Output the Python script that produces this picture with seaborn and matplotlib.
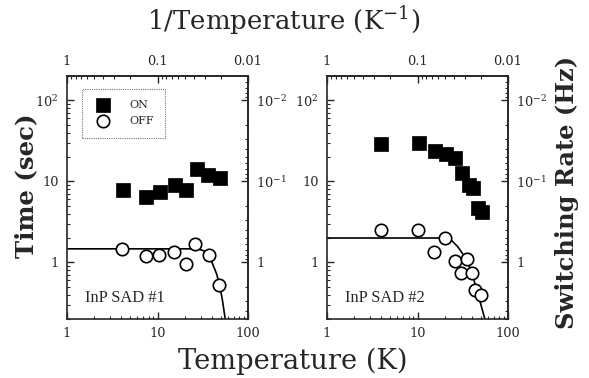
import matplotlib
matplotlib.use("Agg")
import matplotlib.pyplot as plt
import matplotlib.ticker as mticker
import seaborn as sns
import pandas as pd
import numpy as np

# ---- data ----
on1_T = [4.2, 7.4, 10.7, 15.5, 20.8, 27.0, 36.5, 49.0]
on1_t = [7.8, 6.4, 7.5, 9.0, 7.8, 14.4, 11.9, 10.9]
off1_T = [4.1, 7.4, 10.4, 15.3, 20.7, 26.0, 37.0, 48.2]
off1_t = [1.47, 1.2, 1.23, 1.33, 0.95, 1.71, 1.23, 0.53]
fit1_T = [1, 24, 29, 33, 37, 40, 45, 48, 52, 56]
fit1_t = [1.47, 1.47, 1.45, 1.38, 1.23, 1.0, 0.72, 0.55, 0.35, 0.2]

on2_T = [4.0, 10.3, 15.6, 20.4, 25.9, 30.9, 37.0, 41.2, 46.8, 52.2]
on2_t = [28.6, 30.0, 23.7, 22.0, 19.7, 12.7, 9.1, 8.4, 4.7, 4.2]
off2_T = [4.0, 10.0, 15.3, 20.1, 25.9, 29.9, 34.8, 40.2, 43.7, 50.0]
off2_t = [2.48, 2.48, 1.33, 2.02, 1.04, 0.75, 1.1, 0.73, 0.46, 0.40]
fit2_T = [1, 20, 24, 28, 32, 36, 40, 44, 48, 52, 55.5]
fit2_t = [2.0, 2.0, 1.85, 1.55, 1.25, 0.97, 0.75, 0.5, 0.36, 0.26, 0.2]

panel_labels = ["InP SAD #1", "InP SAD #2"]
x_ticks = [1, 10, 100]
x_ticklabels = ["1", "10", "100"]
top_ticks = [1, 0.1, 0.01]
top_ticklabels = ["1", "0.1", "0.01"]
y_ticks = [1, 10, 100]
y_ticklabels = ["1", "10", "$10^{2}$"]
r_ticks = [1, 0.1, 0.01]
r_ticklabels = ["1", "$10^{-1}$", "$10^{-2}$"]

sns.set_style("ticks")
plt.rcParams["font.family"] = ["DejaVu Serif"]
plt.rcParams["mathtext.fontset"] = "dejavuserif"
plt.rcParams["xtick.direction"] = "in"
plt.rcParams["ytick.direction"] = "in"

fig = plt.figure(figsize=(5.89, 3.78), dpi=100)
W, H = 589, 378
ax_boxes = [(67, 76, 181, 243), (327, 76, 181, 243)]

panels = [
    (on1_T, on1_t, off1_T, off1_t, fit1_T, fit1_t),
    (on2_T, on2_t, off2_T, off2_t, fit2_T, fit2_t),
]

inv = (lambda v: 1.0 / v, lambda v: 1.0 / v)
TICKSIZE = 9.3
renderer = fig.canvas.get_renderer()


def fit_text(t, target, use_height=False):
    bb = t.get_window_extent(renderer)
    size = bb.height if use_height else bb.width
    t.set_fontsize(t.get_fontsize() * target / size)


for i, (box, data) in enumerate(zip(ax_boxes, panels)):
    x0, y0, w, h = box
    ax = fig.add_axes([x0 / W, 1 - (y0 + h) / H, w / W, h / H])
    onT, ont, offT, offt, fT, ft = data
    ax.set_xscale("log")
    ax.set_yscale("log")
    ax.set_xlim(1, 100)
    ax.set_ylim(0.2, 200)

    dfit = pd.DataFrame({"T": fT, "t": ft})
    sns.lineplot(data=dfit, x="T", y="t", ax=ax, color="black", lw=1.2,
                 sort=False, estimator=None, zorder=2)
    don = pd.DataFrame({"T": onT, "t": ont})
    doff = pd.DataFrame({"T": offT, "t": offt})
    sns.scatterplot(data=don, x="T", y="t", ax=ax, marker="s", s=95,
                    color="black", edgecolor="black", linewidth=0.5,
                    zorder=3, label="ON" if i == 0 else None)
    sns.scatterplot(data=doff, x="T", y="t", ax=ax, marker="o", s=80,
                    facecolor="white", edgecolor="black", linewidth=1.2,
                    zorder=4, label="OFF" if i == 0 else None)

    ax.set_xlabel("")
    ax.set_ylabel("")
    for sp in ax.spines.values():
        sp.set_linewidth(1.2)
        sp.set_visible(True)
    ax.xaxis.set_major_locator(mticker.FixedLocator(x_ticks))
    ax.xaxis.set_major_formatter(mticker.FixedFormatter(x_ticklabels))
    ax.xaxis.set_minor_locator(mticker.LogLocator(base=10, subs=np.arange(2, 10)))
    ax.xaxis.set_minor_formatter(mticker.NullFormatter())
    ax.yaxis.set_major_locator(mticker.FixedLocator(y_ticks))
    ax.yaxis.set_major_formatter(mticker.FixedFormatter(y_ticklabels))
    ax.yaxis.set_minor_locator(mticker.LogLocator(base=10, subs=np.arange(2, 10)))
    ax.yaxis.set_minor_formatter(mticker.NullFormatter())
    ax.tick_params(which="major", length=5, width=1, labelsize=TICKSIZE, pad=6)
    ax.tick_params(which="minor", length=2.5, width=0.8)

    top = ax.secondary_xaxis("top", functions=inv)
    top.xaxis.set_major_locator(mticker.FixedLocator(top_ticks))
    top.xaxis.set_major_formatter(mticker.FixedFormatter(top_ticklabels))
    top.xaxis.set_minor_locator(mticker.LogLocator(base=10, subs=np.arange(2, 10)))
    top.xaxis.set_minor_formatter(mticker.NullFormatter())
    top.tick_params(which="major", direction="in", length=5, width=1,
                    labelsize=TICKSIZE, pad=6)
    top.tick_params(which="minor", direction="in", length=2.5, width=0.8)

    right = ax.secondary_yaxis("right", functions=inv)
    right.yaxis.set_major_locator(mticker.FixedLocator(r_ticks))
    right.yaxis.set_major_formatter(mticker.FixedFormatter(r_ticklabels))
    right.yaxis.set_minor_locator(mticker.LogLocator(base=10, subs=np.arange(2, 10)))
    right.yaxis.set_minor_formatter(mticker.NullFormatter())
    right.tick_params(which="major", direction="in", length=5, width=1,
                      labelsize=TICKSIZE, pad=6)
    right.tick_params(which="minor", direction="in", length=2.5, width=0.8)
    for sp in top.spines.values():
        sp.set_linewidth(1.2)
    for sp in right.spines.values():
        sp.set_linewidth(1.2)

    pl = ax.text(0.1, 0.086, panel_labels[i], transform=ax.transAxes,
                 fontsize=11.5, ha="left", va="center",
                 family=["Liberation Serif", "DejaVu Serif"])
    fit_text(pl, 80)

    if i == 0:
        leg = ax.legend(loc="upper left", bbox_to_anchor=(0.081, 0.948),
                        fontsize=8, frameon=True, fancybox=False,
                        handletextpad=1.5, borderpad=1.05, labelspacing=0.55,
                        markerscale=1.0, handlelength=1.7, borderaxespad=0)
        leg.get_frame().set_edgecolor("#555555")
        leg.get_frame().set_linestyle((0, (1, 1)))
        leg.get_frame().set_linewidth(0.8)
    else:
        if ax.get_legend() is not None:
            ax.get_legend().remove()

t1 = fig.text(284 / W, 1 - 21 / H, "1/Temperature (K$^{-1}$)", fontsize=18,
              ha="center", va="center")
fit_text(t1, 273)
t2 = fig.text(293 / W, 1 - 361 / H, "Temperature (K)", fontsize=17.5,
              ha="center", va="center")
fit_text(t2, 230)
t3 = fig.text(26 / W, 1 - 186 / H, "Time (sec)", fontsize=17, fontweight="bold",
              rotation=90, ha="center", va="center")
fit_text(t3, 144, use_height=True)
t4 = fig.text(567 / W, 1 - 192 / H, "Switching Rate (Hz)", fontsize=17,
              fontweight="bold", rotation=90, ha="center", va="center")
fit_text(t4, 273, use_height=True)

fig.savefig("out.png", dpi=100)
